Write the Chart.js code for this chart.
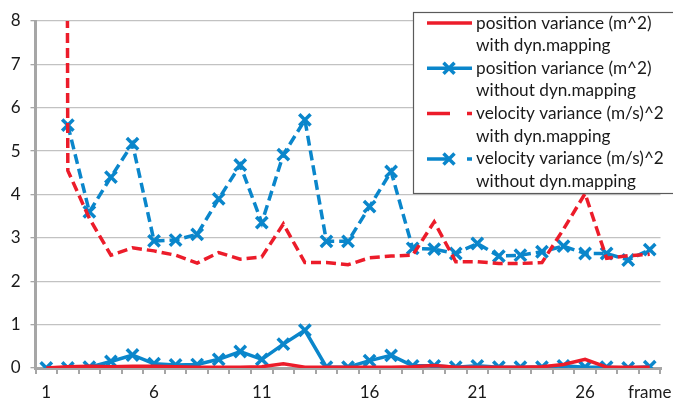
<!DOCTYPE html>
<html>
<head>
<meta charset="utf-8">
<script src="https://cdn.jsdelivr.net/npm/chart.js@4/dist/chart.umd.min.js"></script>
<style>
  html, body { margin: 0; padding: 0; background: #fff; }
  #wrap { width: 673px; height: 406px; }
</style>
</head>
<body>
<div id="wrap"><canvas id="chart" width="673" height="406"></canvas></div>
<script>
// frame numbers along the x axis
const frames = ['1','2','3','4','5','6','7','8','9','10','11','12','13','14','15',
  '16','17','18','19','20','21','22','23','24','25','26','27','28','29'];
// only every fifth frame is labelled, the last slot carries the axis title
const xTickLabels = ['1','','','','','6','','','','','11','','','','','16','','','','',
  '21','','','','','26','','','frame'];
const yTicks = [0, 1, 2, 3, 4, 5, 6, 7, 8];

const posWith = [0, 0.03, 0.04, 0.03, 0.04, 0.04, 0.03, 0.02, 0.02, 0.02, 0.03, 0.1, 0.02, 0.02, 0.02,
  0.02, 0.02, 0.03, 0.06, 0.02, 0.02, 0.02, 0.02, 0.03, 0.08, 0.2, 0.02, 0.02, 0.02];
const posWithout = [0, 0, 0.02, 0.15, 0.3, 0.1, 0.07, 0.08, 0.2, 0.38, 0.2, 0.55, 0.87, 0.02, 0.02,
  0.17, 0.29, 0.05, 0.05, 0.02, 0.05, 0.02, 0.02, 0.02, 0.05, 0.02, 0.02, 0, 0.03];
// first frame is far off the top of the scale
const velWith = [200, 4.55, 3.45, 2.6, 2.77, 2.7, 2.6, 2.42, 2.66, 2.51, 2.56, 3.32, 2.43, 2.43, 2.38,
  2.54, 2.58, 2.6, 3.37, 2.45, 2.45, 2.41, 2.41, 2.43, 3.2, 4.02, 2.53, 2.59, 2.62];
const velWithout = [null, 5.6, 3.6, 4.4, 5.17, 2.93, 2.95, 3.08, 3.9, 4.68, 3.35, 4.92, 5.72, 2.92, 2.92,
  3.72, 4.53, 2.76, 2.74, 2.64, 2.87, 2.58, 2.6, 2.68, 2.81, 2.64, 2.64, 2.49, 2.73];

const seriesNames = [
  ['position variance (m^2)', 'with dyn.mapping'],
  ['position variance (m^2)', 'without dyn.mapping'],
  ['velocity variance (m/s)^2', 'with dyn.mapping'],
  ['velocity variance (m/s)^2', 'without dyn.mapping']
];

const RED = '#ec1c2a';
const BLUE = '#0a86cb';
const AXIS = '#a6a6a6';
const FONT = 'Lato';

function series(data, color, dashed, marked) {
  return {
    data,
    borderColor: color,
    backgroundColor: color,
    borderWidth: 3.5,
    borderDash: dashed ? [10, 5] : [],
    pointStyle: 'crossRot',
    pointRadius: marked ? 8 : 0,
    pointHoverRadius: marked ? 8 : 0,
    pointBorderWidth: 3.5,
    pointBorderColor: color,
    tension: 0
  };
}

// legend drawn as a box over the top right of the plot
const boxLegend = {
  id: 'boxLegend',
  afterDraw(chart) {
    const ctx = chart.ctx;
    const left = 413, top = 12, width = 270, height = 181;
    ctx.save();
    ctx.fillStyle = '#fff';
    ctx.fillRect(left, top, width, height);
    ctx.strokeStyle = '#5a5a5a';
    ctx.lineWidth = 1.2;
    ctx.strokeRect(left + 0.5, top + 0.5, width, height);
    ctx.font = '17.2px ' + FONT;
    ctx.textBaseline = 'middle';
    ctx.fillStyle = '#1a1a1a';
    chart.data.datasets.forEach((ds, i) => {
      const y = 23 + i * 45.3;
      ctx.save();
      ctx.strokeStyle = ds.borderColor;
      ctx.lineWidth = 3.5;
      ctx.setLineDash(ds.borderDash.length ? [23, 17] : []);
      ctx.beginPath();
      ctx.moveTo(427, y);
      ctx.lineTo(472, y);
      ctx.stroke();
      ctx.setLineDash([]);
      if (ds.pointRadius > 0) {
        const r = 5.5;
        ctx.beginPath();
        ctx.moveTo(449 - r, y - r); ctx.lineTo(449 + r, y + r);
        ctx.moveTo(449 - r, y + r); ctx.lineTo(449 + r, y - r);
        ctx.stroke();
      }
      ctx.restore();
      ctx.fillText(seriesNames[i][0], 476, y);
      ctx.fillText(seriesNames[i][1], 476, y + 22.6);
    });
    ctx.restore();
  }
};

new Chart(document.getElementById('chart'), {
  type: 'line',
  data: {
    labels: frames,
    datasets: [
      series(posWith, RED, false, false),
      series(posWithout, BLUE, false, true),
      series(velWith, RED, true, false),
      series(velWithout, BLUE, true, true)
    ]
  },
  options: {
    responsive: false,
    animation: false,
    devicePixelRatio: 1,
    layout: { padding: { top: 21, right: 12.5, left: 0, bottom: 0 } },
    plugins: { legend: { display: false }, tooltip: { enabled: false } },
    scales: {
      x: {
        offset: true,
        grid: { drawOnChartArea: false, tickLength: 6, tickColor: AXIS, lineWidth: 2, offset: true },
        border: { color: AXIS, width: 3 },
        ticks: {
          autoSkip: false,
          maxRotation: 0,
          padding: 8,
          color: '#1a1a1a',
          font: { family: FONT, size: 17 },
          callback: (v, i) => xTickLabels[i]
        },
        // let the "frame" label hang past the plot edge
        afterFit: s => { s.height = 38; s.paddingLeft = 0; s.paddingRight = 0; }
      },
      y: {
        min: yTicks[0],
        max: yTicks[yTicks.length - 1],
        afterBuildTicks: s => { s.ticks = yTicks.map(v => ({ value: v })); },
        grid: { color: '#c2c2c2', lineWidth: 1.3, tickColor: AXIS, tickLength: 5 },
        border: { color: AXIS, width: 3 },
        ticks: {
          padding: 10,
          color: '#1a1a1a',
          font: { family: FONT, size: 17 }
        },
        afterFit: s => { s.width = 35.5; }
      }
    }
  },
  plugins: [boxLegend]
});
</script>
</body>
</html>
